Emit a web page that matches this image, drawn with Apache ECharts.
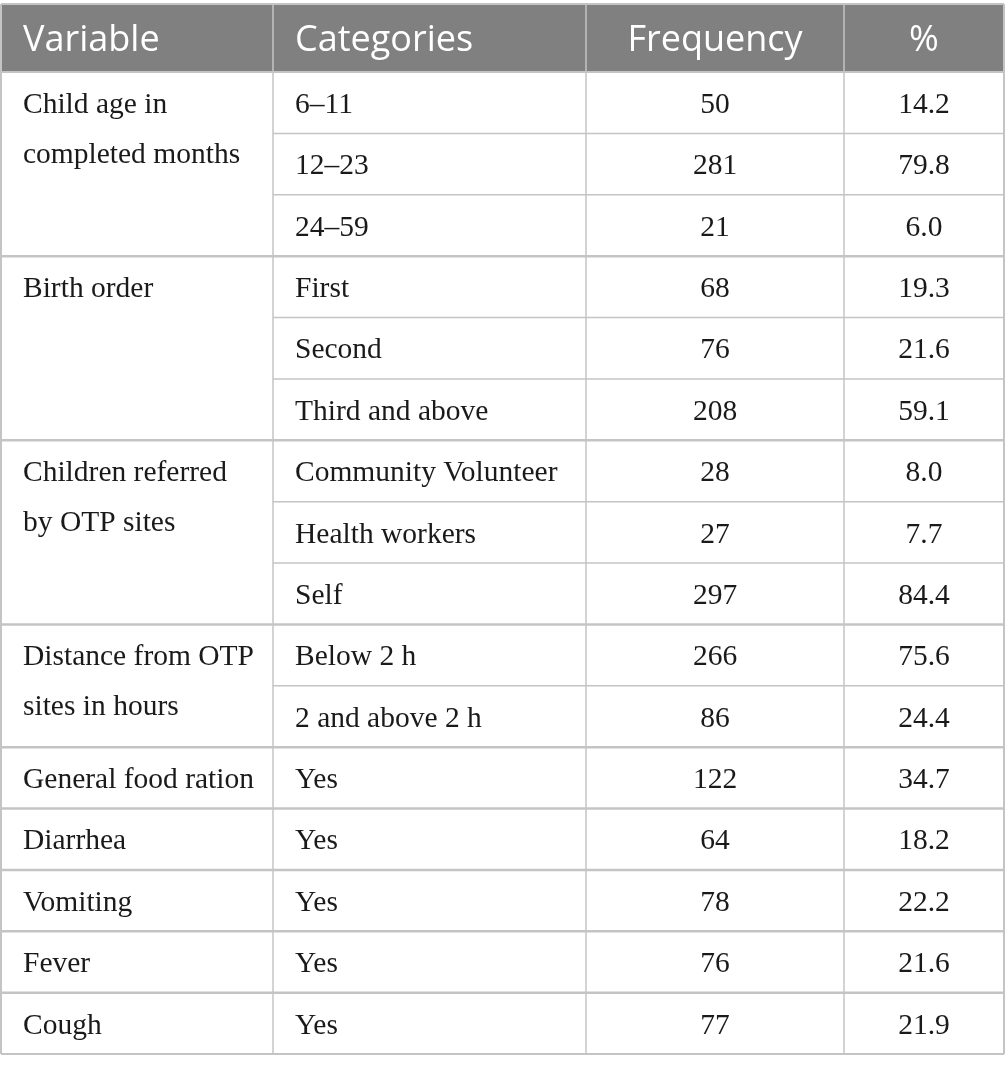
<!DOCTYPE html>
<html><head><meta charset="utf-8">
<script src="https://cdn.jsdelivr.net/npm/echarts@6/dist/echarts.min.js"></script>
<style>html,body{margin:0;padding:0;background:#fff}#c{width:1005px;height:1073px}</style>
</head><body><div id="c"></div>
<script>
// ---- data ----
const headers = ['Variable', 'Categories', 'Frequency', '%'];
const variables = ['Child age in\ncompleted months', 'Birth order', 'Children referred\nby OTP sites',
  'Distance from OTP\nsites in hours', 'General food ration', 'Diarrhea', 'Vomiting', 'Fever', 'Cough'];
const groupSizes = [3, 3, 3, 2, 1, 1, 1, 1, 1];
const categories = ['6–11', '12–23', '24–59', 'First', 'Second', 'Third and above',
  'Community Volunteer', 'Health workers', 'Self', 'Below 2 h', '2 and above 2 h',
  'Yes', 'Yes', 'Yes', 'Yes', 'Yes'];
const frequency = [50, 281, 21, 68, 76, 208, 28, 27, 297, 266, 86, 122, 64, 78, 76, 77];
const percent = ['14.2', '79.8', '6.0', '19.3', '21.6', '59.1', '8.0', '7.7', '84.4', '75.6', '24.4',
  '34.7', '18.2', '22.2', '21.6', '21.9'];

// ---- layout (not data) ----
const colEdges = [0, 272, 585, 843, 1003];
const headerRows = 68 / 61.375;
const nRows = categories.length;
const HEAD_FONT = '36px "Open Sans"';
const BODY_FONT = '29.5px "Liberation Serif"';
const LINE = '#c4c4c4';
const HEAD_DY = 3;
const BODY_DY = 2.5;
const VAR_LH = 50;

const groupStarts = [];
{ let s = 0; groupSizes.forEach(g => { groupStarts.push(s); s += g; }); }

const chart = echarts.init(document.getElementById('c'), null, { renderer: 'canvas' });

function cellX(c, align) {
  if (align === 'left') return colEdges[c] + 22;
  return (colEdges[c] + colEdges[c + 1]) / 2;
}

const headerData = headers.map((h, i) => [i, h]);
const variableData = variables.map((v, i) => [groupStarts[i], v]);
const cellData = [];
categories.forEach((cat, r) => {
  cellData.push([r, 1, cat, 'left']);
  cellData.push([r, 2, String(frequency[r]), 'center']);
  cellData.push([r, 3, percent[r], 'center']);
});
// line data: [x0, x1, y0, y1, width]
const lineData = [];
const groupSet = new Set(groupStarts);
for (let r = 1; r < nRows; r++) {
  if (groupSet.has(r)) lineData.push([colEdges[0], colEdges[4], r, r, 2.5]);
  else lineData.push([colEdges[1], colEdges[4], r, r, 1.5]);
}
lineData.push([colEdges[0], colEdges[4], 0, 0, 2]);
for (let c = 1; c < 4; c++) lineData.push([colEdges[c], colEdges[c], -headerRows, nRows, 1.5]);
lineData.push([colEdges[0], colEdges[4], -headerRows, -headerRows, 2]);
lineData.push([colEdges[0], colEdges[4], nRows, nRows, 2]);
lineData.push([colEdges[0], colEdges[0], -headerRows, nRows, 2]);
lineData.push([colEdges[4], colEdges[4], -headerRows, nRows, 2]);

chart.setOption({
  animation: false,
  grid: { left: 1, right: 1, top: 4, bottom: 19 },
  xAxis: { type: 'value', min: colEdges[0], max: colEdges[4], show: false },
  yAxis: { type: 'value', min: -headerRows, max: nRows, inverse: true, show: false },
  series: [
    {
      type: 'custom', clip: false, data: headerData,
      renderItem(params, api) {
        const i = api.value(0);
        const p0 = api.coord([colEdges[i], -headerRows]);
        const p1 = api.coord([colEdges[i + 1], 0]);
        const align = i < 2 ? 'left' : 'center';
        const t = api.coord([cellX(i, align), -headerRows / 2]);
        return {
          type: 'group', children: [
            { type: 'rect', shape: { x: p0[0], y: p0[1], width: p1[0] - p0[0], height: p1[1] - p0[1] }, style: { fill: '#808080' } },
            { type: 'text', x: t[0], y: t[1] + HEAD_DY, style: { text: headers[i], font: HEAD_FONT, fill: '#ffffff', align: align, verticalAlign: 'middle' } }
          ]
        };
      }
    },
    {
      type: 'custom', clip: false, data: cellData,
      renderItem(params, api) {
        const d = cellData[params.dataIndex];
        const t = api.coord([cellX(d[1], d[3]), d[0] + 0.5]);
        return { type: 'text', x: t[0], y: t[1] + BODY_DY, style: { text: d[2], font: BODY_FONT, fill: '#1a1a1a', align: d[3], verticalAlign: 'middle' } };
      }
    },
    {
      type: 'custom', clip: false, data: variableData,
      renderItem(params, api) {
        const d = variableData[params.dataIndex];
        const t = api.coord([cellX(0, 'left'), d[0] + 0.5]);
        return { type: 'text', x: t[0], y: t[1] + BODY_DY - VAR_LH / 2, style: { text: d[1], font: BODY_FONT, fill: '#1a1a1a', align: 'left', verticalAlign: 'top', lineHeight: VAR_LH } };
      }
    },
    {
      type: 'custom', clip: false, data: lineData, z: 5,
      renderItem(params, api) {
        const d = lineData[params.dataIndex];
        const a = api.coord([d[0], d[2]]);
        const b = api.coord([d[1], d[3]]);
        return { type: 'line', shape: { x1: a[0], y1: a[1], x2: b[0], y2: b[1] }, style: { stroke: LINE, lineWidth: d[4] } };
      }
    }
  ]
});
</script></body></html>
